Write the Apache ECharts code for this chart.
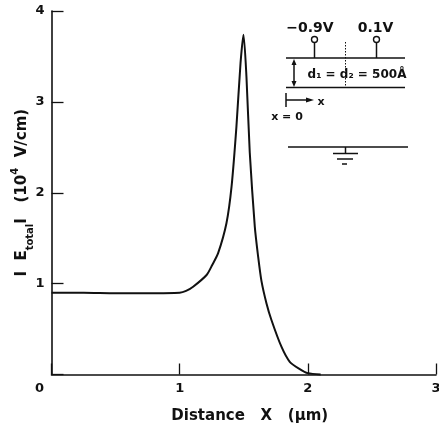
<!DOCTYPE html>
<html>
<head>
<meta charset="utf-8">
<style>html,body{margin:0;padding:0;background:#fff}#chart{width:439px;height:430px}</style>
<script src="https://cdn.jsdelivr.net/npm/echarts@6/dist/echarts.min.js"></script>
</head>
<body>
<div id="chart"></div>
<script>
var xTicks = [0, 1, 2, 3];
var yTicks = [0, 1, 2, 3, 4];
// distance in um, field in 10^4 V/cm
var distance = [0, 0.25, 0.5, 0.75, 1.0, 1.05, 1.105, 1.21, 1.254, 1.30, 1.365, 1.405, 1.443, 1.475, 1.498, 1.521, 1.547, 1.586, 1.612, 1.638, 1.677, 1.716, 1.794, 1.859, 1.937, 2.0, 2.1];
var field = [0.9, 0.9, 0.895, 0.895, 0.9, 0.92, 0.966, 1.095, 1.205, 1.335, 1.665, 2.07, 2.73, 3.43, 3.74, 3.28, 2.44, 1.63, 1.30, 1.03, 0.785, 0.6, 0.306, 0.14, 0.06, 0.015, 0];

var ink = '#111';
var font = 'DejaVu Sans';

var curve = distance.map(function (d, i) { return [d, field[i]]; });

function seg(x1, y1, x2, y2, w, dash) {
    return {type: 'line', shape: {x1: x1, y1: y1, x2: x2, y2: y2}, silent: true,
        style: {stroke: ink, lineWidth: w || 1.5, lineDash: dash || null}};
}
function label(x, y, text, size) {
    return {type: 'text', x: x, y: y, silent: true,
        style: {text: text, fill: ink, font: 'bold ' + (size || 12) + 'px "' + font + '"', align: 'center', verticalAlign: 'middle'}};
}
function head(points) {
    return {type: 'polygon', shape: {points: points}, silent: true, style: {fill: ink}};
}
function terminal(x) {
    return {type: 'circle', shape: {cx: x, cy: 39.5, r: 3}, silent: true,
        style: {fill: '#fff', stroke: ink, lineWidth: 1.4}};
}

var inset = [
    seg(286, 58, 405, 58), seg(286, 87.5, 405, 87.5),
    seg(314.5, 42, 314.5, 58), seg(376.5, 42, 376.5, 58),
    terminal(314.5), terminal(376.5),
    seg(345.5, 42, 345.5, 87, 1, [1.5, 1.5]),
    seg(294, 63, 294, 83), head([[294, 59], [291.5, 65], [296.5, 65]]), head([[294, 87], [291.5, 81], [296.5, 81]]),
    seg(286, 93, 286, 107), seg(286, 100, 308, 100), head([[314, 100], [306, 97.5], [306, 102.5]]),
    seg(288, 147, 408, 147), seg(345.5, 147, 345.5, 153),
    seg(333, 153.5, 358, 153.5), seg(337, 159, 353, 159), seg(342, 164, 347, 164),
    label(310, 28, '\u22120.9V', 14), label(375.5, 28, '0.1V', 14),
    label(321, 102, 'x', 11), label(287, 117, 'x = 0', 11),
    label(357, 75, 'd\u2081 = d\u2082 = 500\u00c5', 12)
];

var myChart = echarts.init(document.getElementById('chart'), null, {renderer: 'canvas'});
var option = {
    backgroundColor: '#fff',
    animation: false,
    grid: {left: 51.5, right: 3, top: 11, bottom: 55.5, outerBoundsMode: 'none'},
    xAxis: {
        type: 'value', min: 0, max: 3, interval: 1,
        name: 'Distance   X   (\u03bcm)', nameLocation: 'middle', nameGap: 34, nameMoveOverlap: false,
        nameTextStyle: {color: ink, fontFamily: font, fontSize: 15, fontWeight: 'bold', padding: [0, 0, 0, 12]},
        splitLine: {show: false},
        axisLine: {lineStyle: {color: ink, width: 1.6}},
        axisTick: {inside: true, length: 11, lineStyle: {color: ink, width: 1.3}},
        axisLabel: {
            margin: 8, color: ink, fontFamily: font, fontSize: 13, fontWeight: 'bold', hideOverlap: false,
            formatter: function (v) { return v === 0 ? '{zero|0}' : String(xTicks[v]); },
            rich: {zero: {padding: [0, 24, 0, 0], color: ink, fontFamily: font, fontSize: 13, fontWeight: 'bold'}}
        }
    },
    yAxis: {
        type: 'value', min: 0, max: 4, interval: 1,
        name: '{b|I  E}{s|total}{b|I   (10}{u|4}{b|  V/cm)}', nameLocation: 'middle', nameRotate: 90, nameGap: 22, nameMoveOverlap: false,
        nameTextStyle: {
            color: ink,
            rich: {
                b: {color: ink, fontFamily: font, fontSize: 15, fontWeight: 'bold'},
                s: {color: ink, fontFamily: font, fontSize: 10, fontWeight: 'bold', verticalAlign: 'bottom', lineHeight: 10, padding: [0, 0, -6, 0]},
                u: {color: ink, fontFamily: font, fontSize: 10, fontWeight: 'bold', verticalAlign: 'top', lineHeight: 10, padding: [-4, 0, 0, 0]}
            }
        },
        splitLine: {show: false},
        axisLine: {show: true, lineStyle: {color: ink, width: 1.6}},
        axisTick: {show: true, inside: true, length: 12, lineStyle: {color: ink, width: 1.3}},
        axisLabel: {
            margin: 7, color: ink, fontFamily: font, fontSize: 13, fontWeight: 'bold',
            formatter: function (v) { return v === 0 ? '' : String(yTicks[v]); }
        }
    },
    series: [{
        type: 'line', data: curve, symbol: 'none', smooth: 0.25, clip: false,
        lineStyle: {color: ink, width: 2}
    }],
    graphic: inset
};
myChart.setOption(option);
</script>
</body>
</html>
